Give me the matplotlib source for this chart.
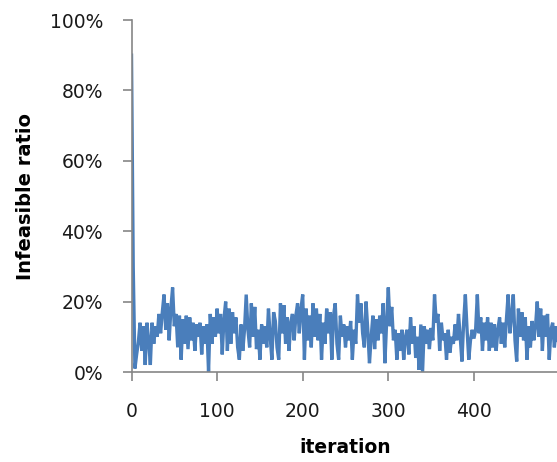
import matplotlib
matplotlib.use("Agg")
import matplotlib.pyplot as plt
from matplotlib.ticker import FuncFormatter

iterations = list(range(0, 500, 2))
infeasible_pct = [
    90, 30, 1, 5, 8.5, 14, 6, 13, 2, 14,
    9, 2, 14, 8, 13, 10, 16.5, 11, 17, 22,
    12, 19.5, 9, 18, 24, 13, 16.5, 7, 16, 3.5,
    15, 8, 16, 6.5, 15.5, 9, 14, 6, 13.5, 10,
    14, 5, 13, 8, 13.5, 0, 16.5, 8, 15.5, 10,
    18, 11, 16.5, 5, 15, 20, 6, 18, 8, 17,
    11, 15.5, 7, 3.5, 13.5, 6, 12, 22, 12, 7,
    19.5, 10, 18.5, 6.5, 12, 3.5, 13.5, 8, 13, 7,
    18, 10, 3.5, 17, 14.5, 7, 3.5, 19.5, 11, 19,
    8, 15.5, 6, 14, 16.5, 9, 16, 19.5, 11, 18,
    22, 3.5, 18, 9, 16, 7, 19.5, 10, 18, 9,
    16.5, 3.5, 14, 8, 18, 11, 17, 3.5, 16, 19.5,
    8, 3.5, 16, 10, 13.5, 7, 13, 9, 14.5, 3.5,
    12, 8, 22, 14, 19.5, 11, 7, 20, 12, 2.5,
    10, 16, 6.5, 15, 9, 16, 11, 19.5, 2.5, 14,
    24, 13, 18.5, 9, 12, 3.5, 11, 6, 12, 3.5,
    10, 12, 5, 15.5, 8, 13, 4, 10, 0.6, 13.5,
    0, 13, 8, 12, 6.5, 12.5, 9, 22, 14, 16.5,
    6, 14, 9, 11, 3.5, 12, 5.5, 10, 8, 13.5,
    9, 16.5, 10, 3, 14, 22, 12, 3.5, 9, 12,
    9.5, 12, 22, 11, 15.5, 6, 14, 9, 15.5, 6,
    14, 7, 13.5, 6, 12, 15.5, 8, 14, 7, 15,
    22, 11, 16, 22, 9, 3, 18, 10, 17, 9,
    15.5, 3.5, 13, 7, 14.5, 9, 13, 20, 10, 18,
    6, 16, 10, 16.5, 3.5, 12, 14, 7, 13, 9,
]
x_ticks = [0, 100, 200, 300, 400]
y_ticks = [0, 20, 40, 60, 80, 100]

AXIS_GRAY = "#868686"
LINE_BLUE = "#4a7ebb"

fig = plt.figure(figsize=(5.57, 4.62), dpi=100)
ax = fig.add_axes([0.2361, 0.1948, 0.7684, 0.7619])

ax.plot(iterations, infeasible_pct, color=LINE_BLUE, lw=2.4, solid_joinstyle="miter")

ax.set_xlim(0, 500)
ax.set_ylim(0, 100)
ax.set_xticks(x_ticks)
ax.set_yticks(y_ticks)
ax.yaxis.set_major_formatter(FuncFormatter(lambda v, _: f"{v:.0f}%"))

for side in ("top", "right"):
    ax.spines[side].set_visible(False)
for side in ("left", "bottom"):
    ax.spines[side].set_color(AXIS_GRAY)
    ax.spines[side].set_linewidth(1.2)

ax.tick_params(axis="both", direction="out", length=6.5, width=1.2, color=AXIS_GRAY,
               labelsize=13.5, labelcolor="#1a1a1a")
ax.tick_params(axis="x", pad=15)
ax.tick_params(axis="y", pad=14)

ax.set_ylabel("Infeasible ratio", fontsize=14, fontweight="bold")
ax.set_xlabel("iteration", fontsize=13.5, fontweight="bold")
ax.yaxis.set_label_coords(-0.226, 0.5)
ax.xaxis.set_label_coords(0.5, -0.187)

fig.savefig("out.png", dpi=100)
